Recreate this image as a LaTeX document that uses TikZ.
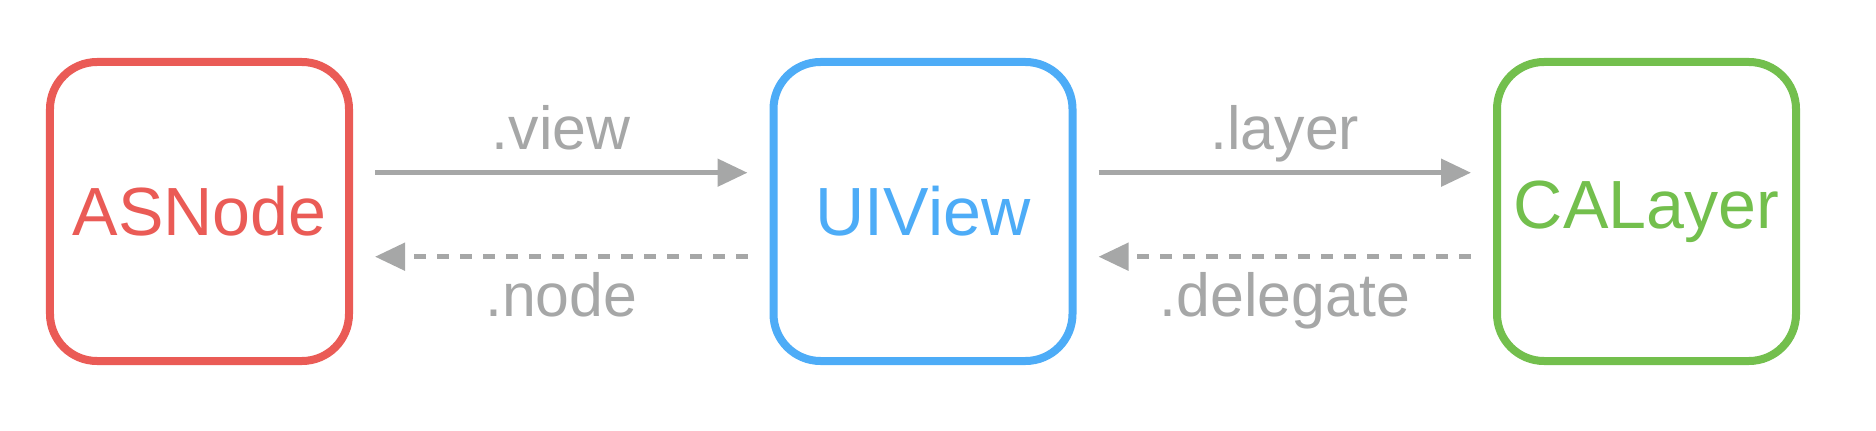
\documentclass[tikz,border=0pt]{standalone}
\usepackage{fontspec}
\setmainfont{Liberation Sans}
\usetikzlibrary{arrows.meta}
\definecolor{nodered}{HTML}{EA5B56}
\definecolor{viewblue}{HTML}{4DACF7}
\definecolor{layergreen}{HTML}{73BF4D}
\definecolor{linkgray}{HTML}{A6A7A7}
\begin{document}
\begin{tikzpicture}[
        obj/.style={draw,fill=white,rectangle,rounded corners=0.47cm,line width=0.08cm,minimum size=2.99cm,font=\fontsize{19.4}{23}\selectfont},
        link/.style={draw=linkgray,line width=0.05cm,-{Triangle[length=0.30cm,width=0.27cm]},shorten <=0.22cm,shorten >=0.22cm},
        back/.style={link,dash pattern=on 0.12cm off 0.11cm},
        lbl/.style={text=linkgray,font=\fontsize{17.3}{21}\selectfont,anchor=base}
    ]
        %% Frame
        \useasboundingbox (0,0) rectangle (18.76,4.30);
        %% Objects
        \node[obj,draw=nodered,text=nodered] (N) at (1.995,2.185) {ASNode};
        \node[obj,draw=viewblue,text=viewblue] (V) at (9.23,2.185) {UIView};
        \node[obj,draw=layergreen,text=layergreen] (L) at (16.465,2.185) {CALayer};
        %% Forward references
        \draw[link] ([yshift=3.88mm]N.east) -- ([yshift=3.88mm]V.west) node[midway,lbl,yshift=2.27mm] {.view};
        \draw[link] ([yshift=3.88mm]V.east) -- ([yshift=3.88mm]L.west) node[midway,lbl,yshift=2.27mm] {.layer};
        %% Back references
        \draw[back] ([yshift=-4.52mm]V.west) -- ([yshift=-4.52mm]N.east) node[midway,lbl,yshift=-6mm] {.node};
        \draw[back] ([yshift=-4.52mm]L.west) -- ([yshift=-4.52mm]V.east) node[midway,lbl,yshift=-6mm] {.delegate};
    \end{tikzpicture}
\end{document}
